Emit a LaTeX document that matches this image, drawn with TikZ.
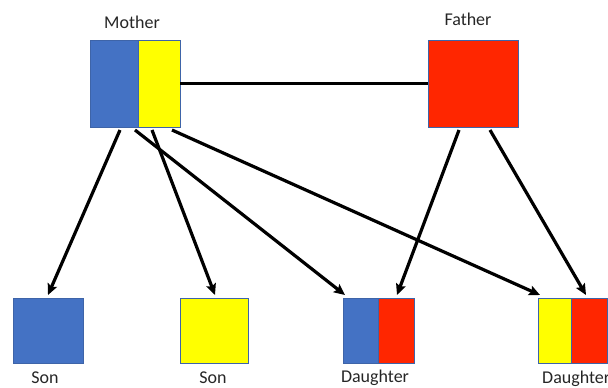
\documentclass[tikz,border=0pt]{standalone}
\usepackage{fontspec}
\setmainfont{Carlito}
\usetikzlibrary{arrows.meta}
\definecolor{cblue}{HTML}{4472C4}
\definecolor{cyellow}{HTML}{FFFF00}
\definecolor{cred}{HTML}{FF2600}
\definecolor{cedge}{HTML}{3E64A8}
\begin{document}
\begin{tikzpicture}[x=1pt,y=-1pt,
  cell/.style={draw=cedge,line width=0.9pt,inner sep=0pt,outer sep=0pt,anchor=north west},
  lbl/.style={font=\fontsize{18}{18}\selectfont,text=black!85,inner sep=0pt},
  link/.style={line width=3.2pt,black},
  arr/.style={link,-{Stealth[length=11pt,width=10pt,inset=2pt]}}]
\useasboundingbox (0,0) rectangle (608,388);
% top
\node[cell,fill=cblue,minimum width=48pt,minimum height=87pt] (mb) at (90,40) {};
\node[cell,fill=cyellow,minimum width=42pt,minimum height=87pt] (my) at (138,40) {};
\node[cell,fill=cred,minimum width=90pt,minimum height=87pt] (fa) at (428,40) {};
\node[lbl] (lm) at (132,22) {Mother};
\node[lbl] (lf) at (468,19) {Father};
% bottom
\node[cell,fill=cblue,minimum width=70pt,minimum height=65pt] (s1) at (13,298) {};
\node[cell,fill=cyellow,minimum width=68pt,minimum height=65pt] (s2) at (180,298) {};
\node[cell,fill=cblue,minimum width=35pt,minimum height=65pt] (d1a) at (343,298) {};
\node[cell,fill=cred,minimum width=36pt,minimum height=65pt] (d1b) at (378,298) {};
\node[cell,fill=cyellow,minimum width=33pt,minimum height=65pt] (d2a) at (538,298) {};
\node[cell,fill=cred,minimum width=36pt,minimum height=65pt] (d2b) at (571,298) {};
\node[lbl] (ls1) at (45,378) {Son};
\node[lbl] (ls2) at (213,378) {Son};
\node[lbl] (ld1) at (375,378) {Daughter};
\node[lbl,anchor=west] (ld2) at (542,379) {Daughter};
% marriage line
\draw[link] (my.east) -- (fa.west);
% arrows from mother
\draw[arr] ([xshift=30pt,yshift=-3pt]mb.south west) -- ([xshift=35pt,yshift=3pt]s1.north west);
\draw[arr] ([xshift=45pt,yshift=-3pt]mb.south west) -- ([xshift=2pt,yshift=3pt]d1a.north west);
\draw[arr] ([xshift=14pt,yshift=-3pt]my.south west) -- ([xshift=35pt,yshift=3pt]s2.north west);
\draw[arr] ([xshift=34pt,yshift=-3pt]my.south west) -- ([xshift=2pt,yshift=3pt]d2a.north west);
% arrows from father
\draw[arr] ([xshift=31pt,yshift=-3pt]fa.south west) -- ([xshift=19pt,yshift=3pt]d1b.north west);
\draw[arr] ([xshift=62pt,yshift=-3pt]fa.south west) -- ([xshift=15pt,yshift=3pt]d2b.north west);
\end{tikzpicture}
\end{document}
